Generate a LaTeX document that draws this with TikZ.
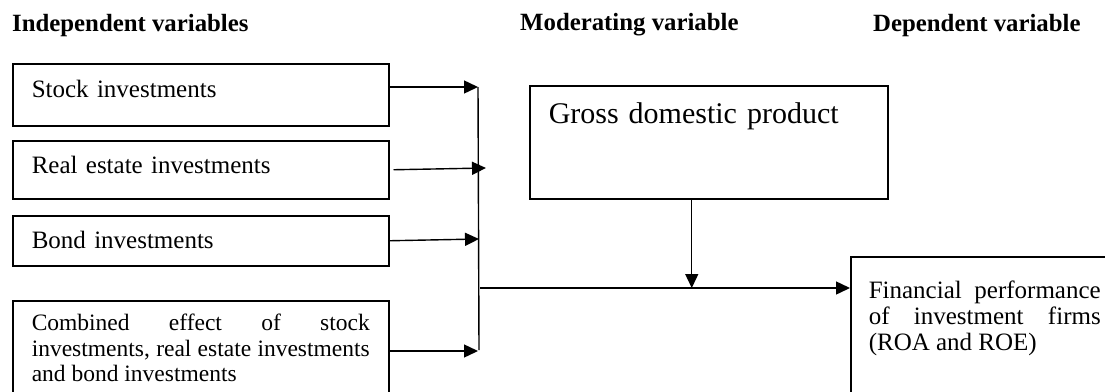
\documentclass[tikz,border=0pt]{standalone}
\usepackage{fontspec}
\setmainfont{Liberation Serif}
\usetikzlibrary{arrows.meta,positioning,calc}
\hyphenpenalty=10000
\exhyphenpenalty=10000
\tolerance=9999

\begin{document}
\begin{tikzpicture}[x=1pt,y=-1pt,
    head/.style={anchor=base west,inner sep=0pt,font=\fontsize{24.8}{28}\selectfont\bfseries},
    indep/.style={draw,line width=1.5pt,anchor=north west,inner xsep=19pt,inner ysep=0pt,text width=338pt,align=left,font=\fontsize{25}{26}\selectfont},
    moder/.style={draw,line width=1.5pt,anchor=north west,inner xsep=19pt,inner ysep=0pt,text width=320pt,align=left,font=\fontsize{30}{34}\selectfont},
    depend/.style={draw,line width=1.5pt,anchor=north west,inner xsep=18pt,inner ysep=0pt,text width=232pt,align=justify,font=\fontsize{25}{26}\selectfont},
    link/.style={-{Triangle[length=14pt,width=13pt]},line width=1.4pt}
  ]
    \useasboundingbox (0,0) rectangle (1105,391);
    \clip (0,0) rectangle (1105,391);

    % Headings
    \node[head] (hindep) at (12,31) {Independent variables};
    \node[head] (hmoder) at (520,30) {Moderating variable};
    \node[head] (hdepend) at (873,31) {Dependent variable};

    % Components
    \node[indep,text height=34pt,text depth=28pt] (stock) at (12,63) {Stock investments};
    \node[indep,text height=33pt,text depth=25pt] (estate) at (12,140) {Real estate investments};
    \node[indep,text height=33pt,text depth=17pt] (bond) at (12,215) {Bond investments};
    \node[indep,align=justify,text height=30pt,text depth=120pt,font=\fontsize{23.5}{25.5}\selectfont] (combined) at (12,300)
      {Combined effect of stock investments, real estate investments and bond investments};
    \node[moder,text height=38pt,text depth=75pt] (gdp) at (529,85) {Gross domestic product};
    \node[depend,text height=42pt,text depth=150pt] (perf) at (850,256)
      {Financial performance of investment firms (ROA and ROE)};

    % Joining points on the bus
    \coordinate (t1) at (478,87);
    \coordinate (t2) at (486,168);
    \coordinate (t3) at (479,239);
    \coordinate (t4) at (478,351);
    \coordinate (busend) at (479,350);
    \coordinate (busmid) at (480,288);

    % Arrows into the bus
    \draw[link] (stock.east |- t1) -- (t1);
    \draw[link] ([xshift=4pt]estate.east) -- (t2);
    \draw[link] (bond.east) -- (t3);
    \draw[link] (combined.east |- t4) -- (t4);
    \draw[line width=1.4pt] (t1) -- (busend);

    % Into the dependent variable
    \draw[link] (busmid) -- (busmid -| perf.west);
    \draw[link] ([xshift=-17pt]gdp.south) -- ([xshift=-17pt]gdp.south |- busmid);
  \end{tikzpicture}
\end{document}
